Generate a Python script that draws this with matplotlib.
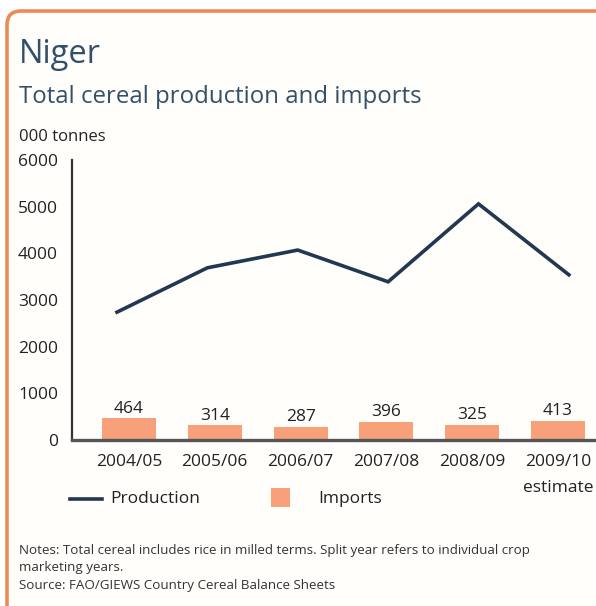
import matplotlib
matplotlib.use("Agg")
import matplotlib.pyplot as plt
from matplotlib.patches import FancyBboxPatch, Rectangle
from matplotlib.lines import Line2D

years = ["2004/05", "2005/06", "2006/07", "2007/08", "2008/09", "2009/10"]
production = [2740, 3690, 4070, 3390, 5060, 3540]
imports = [464, 314, 287, 396, 325, 413]
yticks = [0, 1000, 2000, 3000, 4000, 5000, 6000]

W, H = 596, 606
fig = plt.figure(figsize=(W / 100, H / 100), dpi=100)
fig.patch.set_facecolor("white")

FONT = "Open Sans"
navy = "#223750"
title_col = "#33506a"
bar_col = "#F8A07A"
border_col = "#EE8A55"
text_col = "#222222"

def fx(px):
    return px / W

def fy(py):
    return 1 - py / H

# border (top and left, rounded corner)
bg = fig.add_axes([0, 0, 1, 1], zorder=-5)
bg.set_xlim(0, W)
bg.set_ylim(H, 0)
bg.axis("off")
bg.add_patch(FancyBboxPatch((7, 11), 700, 700, boxstyle="round,pad=0,rounding_size=14",
                            facecolor="#FFFEFA", edgecolor=border_col, linewidth=2.6))

fig.text(fx(19), fy(63), "Niger", fontsize=23.5, color=title_col, family=FONT, va="baseline")
fig.text(fx(19), fy(103), "Total cereal production and imports", fontsize=17.3,
         color=title_col, family=FONT, va="baseline")
fig.text(fx(19), fy(141), "000 tonnes", fontsize=12, color=text_col, family=FONT, va="baseline")

ax = fig.add_axes([fx(72), fy(440), fx(596) - fx(72), fy(160) - fy(440)])
ax.set_facecolor("none")
x = list(range(len(years)))
ax.bar(x, imports, width=0.63, color=bar_col, zorder=2)
for xi, v in zip(x, imports):
    ax.text(xi, v + 30, str(v), ha="center", va="bottom", fontsize=12.5,
            color=text_col, family=FONT)

ax.set_xlim(-0.664, 5.443)
ax.set_ylim(0, 6000)
ax.set_yticks(yticks)
ax.set_yticklabels([str(t) for t in yticks], family=FONT, fontsize=12.5, color=text_col)
ax.set_xticks(x)
ax.set_xticklabels(years, family=FONT, fontsize=12.5, color=text_col)
ax.tick_params(axis="both", length=0)
ax.tick_params(axis="y", pad=10)
ax.tick_params(axis="x", pad=10)
for s in ["top", "right"]:
    ax.spines[s].set_visible(False)
ax.spines["left"].set_color("#333333")
ax.spines["left"].set_linewidth(1.6)
ax.spines["bottom"].set_color("#555555")
ax.spines["bottom"].set_linewidth(2.4)

# production line drawn on its own category scale (slightly wider spacing than bars)
ax2 = ax.twiny()
ax2.set_xlim(-0.498, 5.30)
ax2.set_ylim(0, 6000)
ax2.plot(x, production, color=navy, linewidth=2.6, zorder=3, solid_joinstyle="miter")
ax2.axis("off")

fig.text(fx(558), fy(492), "estimate", fontsize=12.5, color=text_col, family=FONT,
         ha="center", va="baseline")

# legend
bg.add_line(Line2D([70, 102], [499, 499], color=navy, linewidth=2.6))
bg.text(110, 499, "Production", fontsize=12.5, color=text_col, family=FONT, va="center")
bg.add_patch(Rectangle((271, 488), 19, 19, facecolor=bar_col, edgecolor="none"))
bg.text(318, 499, "Imports", fontsize=12.5, color=text_col, family=FONT, va="center")

notes = ("Notes: Total cereal includes rice in milled terms. Split year refers to individual crop\n"
         "marketing years.\n"
         "Source: FAO/GIEWS Country Cereal Balance Sheets")
fig.text(fx(19), fy(544), notes, fontsize=9.6, color="#333333", family=FONT,
         va="top", linespacing=1.45)

fig.savefig("out.png", dpi=100, facecolor="white")
